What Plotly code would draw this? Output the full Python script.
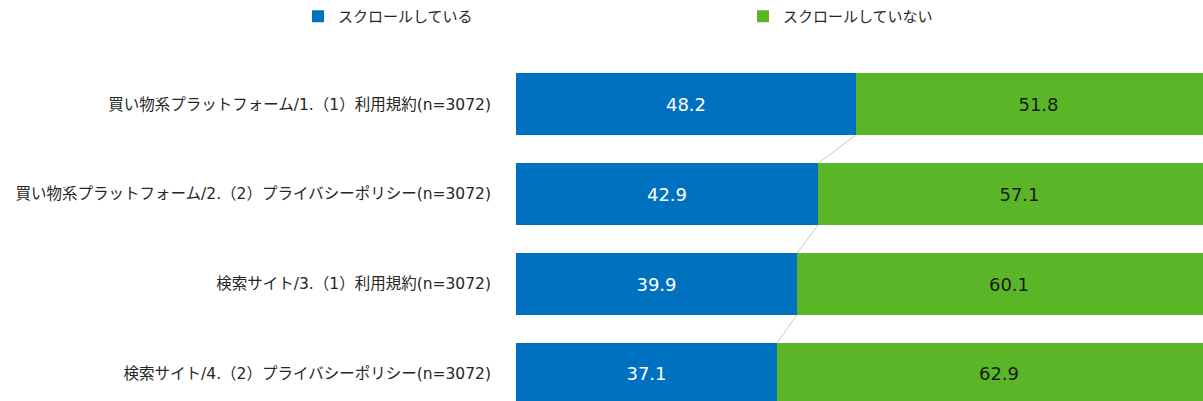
import plotly.graph_objects as go

# Survey items (top to bottom) and shares in percent
categories = [
    "買い物系プラットフォーム/1.（1）利用規約(n=3072)",
    "買い物系プラットフォーム/2.（2）プライバシーポリシー(n=3072)",
    "検索サイト/3.（1）利用規約(n=3072)",
    "検索サイト/4.（2）プライバシーポリシー(n=3072)",
]
series_names = ["スクロールしている", "スクロールしていない"]
scrolled = [48.2, 42.9, 39.9, 37.1]
not_scrolled = [51.8, 57.1, 60.1, 62.9]

colors = ["#0070C0", "#5BB627"]
text_colors = ["#FFFFFF", "#1A1A1A"]
legend_ids = ["legend", "legend2"]

FONT = "DejaVu Sans, Noto Sans CJK JP, sans-serif"
BAR_W = 0.688
ypos = list(range(len(categories)))

fig = go.Figure()
for name, vals, col, tcol, lg in zip(series_names, [scrolled, not_scrolled],
                                      colors, text_colors, legend_ids):
    fig.add_trace(go.Bar(
        y=ypos,
        x=vals,
        name=name,
        orientation="h",
        width=BAR_W,
        marker=dict(color=col, line=dict(width=0)),
        text=vals,
        texttemplate="%{x:.1f}",
        textposition="inside",
        insidetextanchor="middle",
        textangle=0,
        textfont=dict(family=FONT, size=18, color=tcol),
        cliponaxis=True,
        legend=lg,
    ))

# Series connector lines between the boundaries of neighbouring bars
for i in range(len(scrolled) - 1):
    fig.add_shape(
        type="line", xref="x", yref="y",
        x0=scrolled[i], y0=ypos[i] + BAR_W / 2,
        x1=scrolled[i + 1], y1=ypos[i + 1] - BAR_W / 2,
        line=dict(color="#C8C8C8", width=1),
        layer="below",
    )

legend_style = dict(
    orientation="h",
    xref="container", yref="container",
    y=1.0, xanchor="left", yanchor="top",
    font=dict(family=FONT, size=15, color="#262626"),
    bgcolor="rgba(0,0,0,0)",
)

fig.update_layout(
    barmode="stack",
    width=1203,
    height=401,
    margin=dict(l=516, r=0, t=40, b=0, autoexpand=False),
    paper_bgcolor="white",
    plot_bgcolor="white",
    font=dict(family=FONT, size=15, color="#262626"),
    bargap=0,
    legend=dict(legend_style, x=298 / 1203),
    legend2=dict(legend_style, x=743 / 1203),
    xaxis=dict(
        range=[0, 97.5],
        showgrid=False, zeroline=False, showticklabels=False,
        showline=False, ticks="",
        fixedrange=True,
    ),
    yaxis=dict(
        range=[3.308, -0.717],
        tickvals=ypos,
        ticktext=categories,
        showgrid=False, zeroline=False, showline=False,
        ticks="",
        ticklabelstandoff=24,
        tickfont=dict(family=FONT, size=15.5, color="#262626"),
        fixedrange=True,
    ),
    showlegend=True,
)

fig.write_html("out.html")
